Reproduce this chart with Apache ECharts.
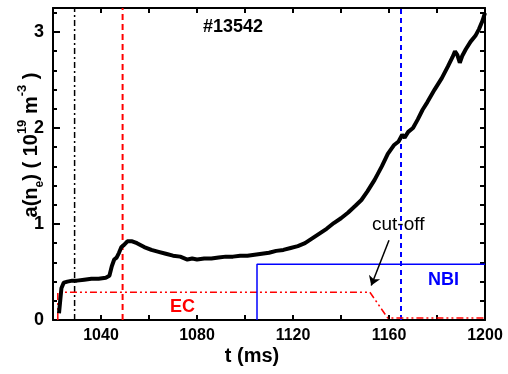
<!DOCTYPE html>
<html>
<head>
<meta charset="utf-8">
<script src="https://cdn.jsdelivr.net/npm/echarts@6/dist/echarts.min.js"></script>
<style>
html, body { margin: 0; padding: 0; background: #fff; }
#box { width: 508px; height: 374px; }
</style>
</head>
<body>
<div id="box"></div>
<script>
// line-averaged density, shot #13542
const densityTime = [1022.5, 1023, 1023.5, 1024.5, 1026, 1028, 1030, 1033, 1036, 1039, 1042, 1043.5, 1044.5, 1045.5, 1046.5, 1047.5, 1048.5, 1049.5, 1051, 1053, 1055, 1058, 1061, 1064, 1067, 1070, 1073, 1076, 1078, 1080, 1083, 1086, 1089, 1092, 1095, 1098, 1101, 1104, 1107, 1110, 1113, 1116, 1119, 1122, 1125, 1128, 1131, 1134, 1137, 1140, 1143, 1146, 1148.5, 1151, 1154, 1157, 1159.5, 1162, 1164, 1165.5, 1166.5, 1168, 1170, 1172, 1174, 1176, 1179, 1182, 1184.5, 1186.5, 1187.5, 1188.5, 1189.5, 1190.5, 1192, 1194, 1196, 1197.5, 1199, 1200];
const densityValue = [0.07, 0.2, 0.33, 0.39, 0.40, 0.41, 0.41, 0.42, 0.43, 0.43, 0.44, 0.46, 0.56, 0.63, 0.65, 0.70, 0.76, 0.78, 0.82, 0.82, 0.80, 0.76, 0.73, 0.71, 0.69, 0.67, 0.66, 0.63, 0.64, 0.63, 0.64, 0.64, 0.65, 0.66, 0.66, 0.67, 0.67, 0.68, 0.69, 0.70, 0.72, 0.73, 0.75, 0.77, 0.80, 0.85, 0.90, 0.95, 1.01, 1.06, 1.12, 1.19, 1.25, 1.34, 1.46, 1.60, 1.73, 1.82, 1.86, 1.93, 1.90, 1.96, 2.00, 2.09, 2.19, 2.27, 2.40, 2.52, 2.64, 2.74, 2.80, 2.76, 2.68, 2.75, 2.82, 2.90, 2.96, 3.03, 3.12, 3.20];

// EC and NBI waveforms (schematic)
const ecTime = [1022, 1022, 1152, 1159.5, 1200];
const ecValue = [0, 0.29, 0.29, 0.02, 0.02];
const nbiTime = [1105, 1105, 1200];
const nbiValue = [0, 0.58, 0.58];

// vertical markers
const blackMarkT = 1029;
const redMarkT = 1049;
const blueMarkT = 1165;

// cut-off arrow start / end
const arrowFrom = [1160, 0.83];
const arrowTo = [1152.6, 0.36];

const xMin = 1020, xMax = 1200;
const yMin = 0, yMax = 3.25;

const font = "'Liberation Sans', Arial, sans-serif";

function pairs(xs, ys) {
  return xs.map((x, i) => [x, ys[i]]);
}
function vline(t) {
  return [[t, yMin], [t, yMax]];
}

var myChart = echarts.init(document.getElementById("box"));
let option = {
  animation: false,
  backgroundColor: "#fff",
  grid: { left: 53, right: 23, top: 8, bottom: 54, containLabel: false },
  xAxis: [
    {
      type: "value",
      position: "bottom",
      min: xMin,
      max: xMax,
      interval: 20,
      axisLine: { show: true, onZero: false, lineStyle: { color: "#000", width: 2 } },
      axisTick: { show: true, inside: true, length: 5, lineStyle: { color: "#000", width: 2 } },
      axisLabel: {
        margin: 8,
        color: "#000",
        fontSize: 16,
        fontWeight: "bold",
        fontFamily: font,
        formatter: v => (v % 40 === 0 ? String(v) : "")
      },
      splitLine: { show: false }
    },
    {
      type: "value",
      position: "top",
      min: xMin,
      max: xMax,
      interval: 20,
      axisLine: { show: true, onZero: false, lineStyle: { color: "#000", width: 2 } },
      axisTick: { show: true, inside: true, length: 5, lineStyle: { color: "#000", width: 2 } },
      axisLabel: { show: false },
      splitLine: { show: false }
    }
  ],
  yAxis: [
    {
      type: "value",
      position: "left",
      min: yMin,
      max: yMax,
      interval: 0.2,
      axisLine: { show: true, onZero: false, lineStyle: { color: "#000", width: 2 } },
      axisTick: { show: true, inside: true, length: 4, lineStyle: { color: "#000", width: 2 } },
      axisLabel: {
        margin: 9,
        color: "#000",
        fontSize: 18,
        fontWeight: "bold",
        fontFamily: font,
        formatter: v => (Math.abs(v - Math.round(v)) < 1e-6 ? String(Math.round(v)) : "")
      },
      splitLine: { show: false }
    },
    {
      type: "value",
      position: "left",
      min: yMin,
      max: yMax,
      interval: 1,
      axisLine: { show: false },
      axisTick: { show: true, inside: true, length: 7, lineStyle: { color: "#000", width: 2 } },
      axisLabel: { show: false },
      splitLine: { show: false }
    },
    {
      type: "value",
      position: "right",
      min: yMin,
      max: yMax,
      interval: 0.2,
      axisLine: { show: true, onZero: false, lineStyle: { color: "#000", width: 2 } },
      axisTick: { show: true, inside: true, length: 5, lineStyle: { color: "#000", width: 2 } },
      axisLabel: { show: false },
      splitLine: { show: false }
    }
  ],
  series: [
    {
      name: "black marker",
      type: "line",
      showSymbol: false,
      data: vline(blackMarkT),
      lineStyle: { color: "#000", width: 1.5, type: [6, 3, 2, 3] }
    },
    {
      name: "red marker",
      type: "line",
      showSymbol: false,
      data: vline(redMarkT),
      lineStyle: { color: "#ff0000", width: 2, type: [6, 4] }
    },
    {
      name: "blue marker",
      type: "line",
      showSymbol: false,
      data: vline(blueMarkT),
      lineStyle: { color: "#0000ff", width: 2, type: [5, 4] }
    },
    {
      name: "EC",
      type: "line",
      showSymbol: false,
      data: pairs(ecTime, ecValue),
      lineStyle: { color: "#ff0000", width: 1.5, type: [7, 3, 2, 3, 2, 3] }
    },
    {
      name: "NBI",
      type: "line",
      showSymbol: false,
      data: pairs(nbiTime, nbiValue),
      lineStyle: { color: "#0000ff", width: 1.5 },
      markLine: {
        silent: true,
        symbol: ["none", "arrow"],
        symbolSize: 9,
        label: { show: false },
        lineStyle: { color: "#000", width: 1.5, type: "solid" },
        data: [[{ coord: arrowFrom }, { coord: arrowTo }]]
      }
    },
    {
      name: "density",
      type: "line",
      showSymbol: false,
      data: pairs(densityTime, densityValue),
      lineStyle: { color: "#000", width: 4 }
    }
  ],
  graphic: [
    {
      type: "text", x: 203, y: 27,
      style: { text: "#13542", fill: "#000", font: "bold 18px " + font, verticalAlign: "middle" }
    },
    {
      type: "text", x: 170, y: 307,
      style: { text: "EC", fill: "#ff0000", font: "bold 18px " + font, verticalAlign: "middle" }
    },
    {
      type: "text", x: 428, y: 280,
      style: { text: "NBI", fill: "#0000ff", font: "bold 18px " + font, verticalAlign: "middle" }
    },
    {
      type: "text", x: 372, y: 225,
      style: { text: "cut-off", fill: "#000", font: "19px " + font, verticalAlign: "middle" }
    },
    {
      type: "text", x: 252, y: 356,
      style: { text: "t (ms)", fill: "#000", font: "bold 20px " + font, align: "center", verticalAlign: "middle" }
    },
    {
      type: "text", x: 31, y: 145, rotation: Math.PI / 2,
      style: {
        text: "{b|a(n}{s|e}{b|) ( 10}{p|19}{b| m}{p|-3}{b| )}",
        align: "center",
        verticalAlign: "middle",
        fill: "#000",
        rich: {
          b: { fontSize: 20, fontWeight: "bold", fontFamily: font, lineHeight: 30, fill: "#000" },
          s: { fontSize: 12, fontWeight: "bold", fontFamily: font, lineHeight: 30, verticalAlign: "bottom", fill: "#000" },
          p: { fontSize: 13, fontWeight: "bold", fontFamily: font, lineHeight: 30, verticalAlign: "top", fill: "#000" }
        }
      }
    }
  ]
};
myChart.setOption(option);
</script>
</body>
</html>
